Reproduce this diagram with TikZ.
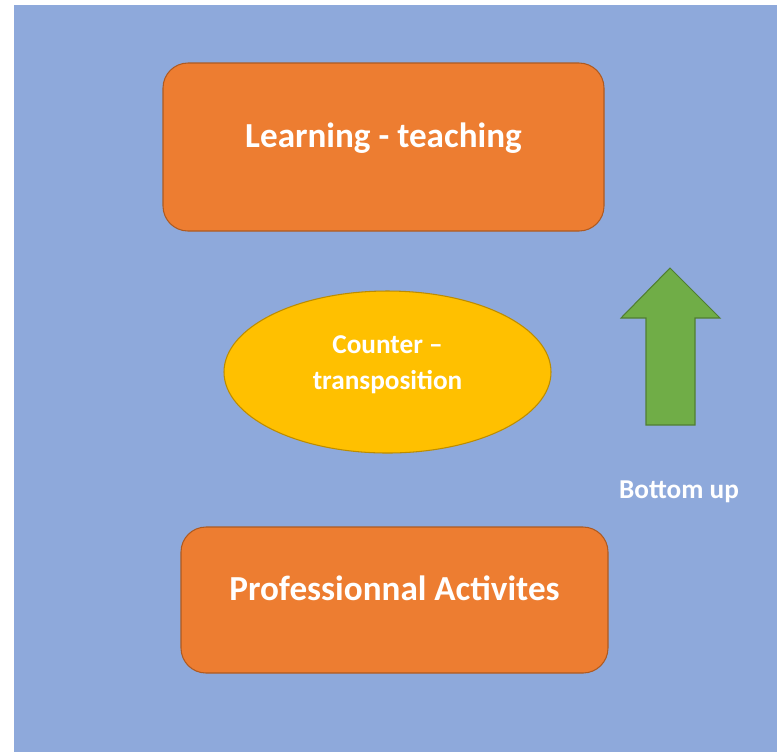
\documentclass[tikz,border=0pt]{standalone}
\usepackage{fontspec}
\setmainfont{Carlito}
\usetikzlibrary{shapes.geometric}
\definecolor{bgblue}{HTML}{8EA9DB}
\definecolor{boxorange}{HTML}{ED7D31}
\definecolor{boxorangeline}{HTML}{AE5A21}
\definecolor{ovalyellow}{HTML}{FFC000}
\definecolor{ovalyellowline}{HTML}{BC8C00}
\definecolor{arrowgreen}{HTML}{70AD47}
\definecolor{arrowgreenline}{HTML}{507E32}
\tikzset{
  levelbox/.style={draw=boxorangeline,fill=boxorange,rounded corners=0.5cm,
    text=white,font=\bfseries\fontsize{20}{24}\selectfont,text depth=14pt,line width=0.6pt},
  midoval/.style={ellipse,draw=ovalyellowline,fill=ovalyellow,text=white,
    font=\bfseries\fontsize{15.5}{20.4}\selectfont,align=center,inner sep=0pt,line width=0.6pt},
  sidelabel/.style={text=white,font=\bfseries\fontsize{15.5}{19}\selectfont}
}
\begin{document}
\begin{tikzpicture}[x=0.02cm,y=-0.02cm]
      \useasboundingbox (0,0) rectangle (777,752);
      \fill[bgblue] (14,5) rectangle (777,752);
      %levels
      \node[levelbox,minimum width=441*0.02cm,minimum height=168*0.02cm] (learning) at (383.5,147) {Learning - teaching};
      \node[levelbox,minimum width=427*0.02cm,minimum height=146*0.02cm] (activites) at (394.5,600) {Professionnal Activites};
      %counter-transposition
      \node[midoval,minimum width=327*0.02cm,minimum height=162*0.02cm] (counter) at (387.5,372) {Counter --\\transposition\\[-10pt]};
      %bottom up
      \draw[arrowgreenline,fill=arrowgreen,line width=0.6pt] (670,268) -- (720,318) -- (695,318) -- (695,425)
          -- (646,425) -- (646,318) -- (621,318) -- cycle;
      \node[sidelabel] (bottomup) at (679,492) {Bottom up};
\end{tikzpicture}
\end{document}
